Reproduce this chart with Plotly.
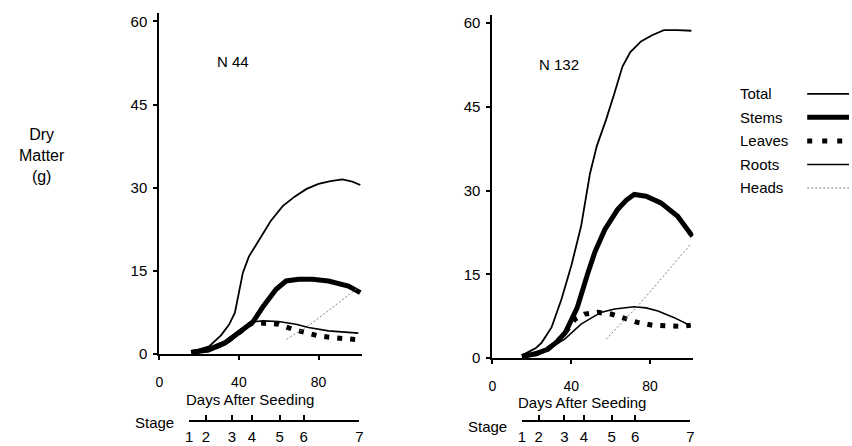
import plotly.graph_objects as go

W, H = 852, 446                # target picture size
LAYOUT_W, LAYOUT_H = 856, 453  # the page is photographed slightly reduced; this fills the frame

# ---------------- data ----------------
series_names = ["Total", "Stems", "Leaves", "Roots", "Heads"]
panel_titles = ["N 44", "N 132"]
x_ticks = [0, 40, 80]
y_ticks = [0, 15, 30, 45, 60]
stage_days = [15, 23.5, 36.5, 46.5, 60.5, 72.5, 100.5]
stage_labels = ["1", "2", "3", "4", "5", "6", "7"]

# N 44 panel
n44_total_days = [16, 25, 31, 35, 38, 42, 45, 49, 52, 56, 62, 68, 74, 80, 86, 92, 97, 101]
n44_total = [0.4, 1.4, 3.4, 5.3, 7.5, 14.7, 17.6, 20.0, 21.6, 24.0, 26.7, 28.4, 29.8, 30.7, 31.2, 31.5, 31.1, 30.5]
n44_stems_days = [16, 25, 33, 40, 47, 52, 58.7, 63.7, 70, 77, 85, 95, 101]
n44_stems = [0.3, 0.8, 2.0, 3.8, 5.8, 8.5, 11.7, 13.2, 13.5, 13.5, 13.2, 12.3, 11.1]
n44_leaves_days = [16, 25, 33, 40, 46, 53.7, 60, 67, 73.5, 80, 87, 93.5, 100]
n44_leaves = [0.3, 0.8, 2.0, 3.8, 5.5, 5.6, 5.4, 4.5, 3.9, 3.3, 3.0, 2.7, 2.6]
n44_roots_days = [16, 25, 33, 40, 46, 52, 60, 68.7, 75, 85, 100]
n44_roots = [0.4, 1.2, 2.4, 4.2, 5.8, 6.0, 5.9, 5.4, 4.8, 4.2, 3.8]
n44_heads_days = [64, 76, 100]
n44_heads = [2.7, 5.4, 12.0]

# N 132 panel
n132_total_days = [15, 22, 25, 30, 35, 40, 45, 49.5, 53, 57.7, 62, 66, 70, 75.4, 81, 87, 94, 101]
n132_total = [0.5, 1.8, 2.8, 5.5, 10.5, 16.5, 23.6, 33.0, 38.0, 42.7, 47.5, 52.2, 54.8, 56.7, 57.8, 58.7, 58.7, 58.6]
n132_stems_days = [15, 22, 28, 33, 37, 43, 48.5, 52, 57, 63.5, 68, 72, 78, 85.5, 94, 101.5]
n132_stems = [0.3, 0.8, 1.6, 3.0, 4.6, 9.0, 15.3, 19.0, 23.0, 26.6, 28.3, 29.3, 29.0, 27.8, 25.4, 21.8]
n132_leaves_days = [15, 22, 28, 33, 37, 42, 46.8, 53.5, 60.2, 67, 73.7, 81.3, 88, 94.7, 100.6]
n132_leaves = [0.3, 0.8, 1.6, 3.0, 4.6, 7.0, 7.9, 8.2, 7.9, 7.2, 6.4, 5.9, 5.7, 5.7, 5.9]
n132_roots_days = [15, 23, 30, 36.7, 45, 55, 62, 67, 72, 78, 84, 92, 100.6]
n132_roots = [0.2, 0.7, 2.0, 3.4, 6.1, 8.2, 8.8, 9.05, 9.2, 9.0, 8.45, 7.3, 5.8]
n132_heads_days = [57.7, 73.7, 100.6]
n132_heads = [3.4, 9.3, 20.4]

# ---------------- styles / layout helpers ----------------
FONT = "Arial, Liberation Sans, sans-serif"
styles = {
    "Total": dict(color="black", width=1.8),
    "Stems": dict(color="black", width=5),
    "Leaves": dict(color="black", width=5, dash="5px,8px"),
    "Roots": dict(color="black", width=1.6),
    "Heads": dict(color="#808080", width=1, dash="2px,2px"),
}
legend_styles = dict(styles)
legend_styles["Leaves"] = dict(color="black", width=5, dash="5px,10px")

def fx(px):
    return px / W

def fy(py):
    return 1 - py / H

def text_at(text, px, py, size=15, xanchor="center"):
    return dict(text=text, x=fx(px), y=fy(py), xref="paper", yref="paper",
                xanchor=xanchor, yanchor="middle", showarrow=False,
                font=dict(size=size), align="center")

X_MAX = 102
Y_MAX = 61.5
panels = [
    dict(x0=156, sx=2.0, y0=355, sy=5.56, title_px=(230, 62), xt_py=400, st_py=423),
    dict(x0=490.7, sx=1.98, y0=359, sy=5.6, title_px=(558, 65), xt_py=403, st_py=427),
]

panel_data = [
    [(n44_total_days, n44_total), (n44_stems_days, n44_stems), (n44_leaves_days, n44_leaves),
     (n44_roots_days, n44_roots), (n44_heads_days, n44_heads)],
    [(n132_total_days, n132_total), (n132_stems_days, n132_stems), (n132_leaves_days, n132_leaves),
     (n132_roots_days, n132_roots), (n132_heads_days, n132_heads)],
]

fig = go.Figure()
layout = dict(
    width=LAYOUT_W, height=LAYOUT_H, margin=dict(l=0, r=0, t=0, b=0),
    paper_bgcolor="white", plot_bgcolor="rgba(0,0,0,0)",
    showlegend=False, font=dict(family=FONT, color="black", size=15),
)
annotations = []
shapes = []

for i, (p, data) in enumerate(zip(panels, panel_data)):
    xa = "x" if i == 0 else f"x{2 * i + 1}"
    ya = "y" if i == 0 else f"y{2 * i + 1}"
    sa = f"x{2 * i + 2}"
    sy = f"y{2 * i + 2}"
    xkey = "xaxis" if i == 0 else f"xaxis{2 * i + 1}"
    ykey = "yaxis" if i == 0 else f"yaxis{2 * i + 1}"
    skx = f"xaxis{2 * i + 2}"
    sky = f"yaxis{2 * i + 2}"

    for name, (d, v) in zip(series_names, data):
        fig.add_trace(go.Scatter(x=d, y=v, mode="lines", line=styles[name], name=name,
                                 xaxis=xa, yaxis=ya, showlegend=False, hoverinfo="skip"))

    xdom = [fx(p["x0"]), fx(p["x0"] + X_MAX * p["sx"])]
    ydom = [fy(p["y0"]), fy(p["y0"] - Y_MAX * p["sy"])]
    layout[xkey] = dict(
        domain=xdom, range=[0, X_MAX], anchor=ya, tickvals=x_ticks,
        ticks="outside", ticklen=4, tickwidth=1.5, tickcolor="black",
        showline=True, linewidth=2, linecolor="black", showgrid=False, zeroline=False,
        tickfont=dict(size=14), ticklabelstandoff=10,
    )
    layout[ykey] = dict(
        domain=ydom, range=[0, Y_MAX], anchor=xa, tickvals=y_ticks,
        ticks="outside", ticklen=4, tickwidth=1.5, tickcolor="black",
        showline=True, linewidth=2, linecolor="black", showgrid=False, zeroline=False,
        tickfont=dict(size=15), ticklabelstandoff=3,
    )

    s0 = p["x0"] + stage_days[0] * p["sx"]
    s1 = p["x0"] + stage_days[-1] * p["sx"]
    line_py = 421
    fig.add_trace(go.Scatter(x=stage_days, y=[0] * len(stage_days), mode="markers",
                             marker=dict(opacity=0), xaxis=sa, yaxis=sy,
                             showlegend=False, hoverinfo="skip"))
    layout[skx] = dict(
        domain=[fx(s0), fx(s1)], range=[stage_days[0], stage_days[-1]], anchor=sy,
        tickvals=stage_days, ticktext=stage_labels, ticks="inside", ticklen=5,
        tickwidth=1.5, tickcolor="black", showline=True, linewidth=1.5, linecolor="black",
        showgrid=False, zeroline=False, tickfont=dict(size=15), ticklabelstandoff=2,
    )
    layout[sky] = dict(domain=[fy(line_py), fy(line_py) + 0.01], range=[0, 1],
                       anchor=sa, visible=False)

    annotations.append(text_at(panel_titles[i], *p["title_px"], size=15))
    annotations.append(text_at("Days After Seeding", p["x0"] + 45.5 * p["sx"], p["xt_py"], size=15))
    annotations.append(text_at("Stage", s0 - 35, p["st_py"], size=15))

annotations.append(text_at("Dry<br>Matter<br>(g)", 38, 156, size=16))

# legend: label on the left, line sample on the right
for k, name in enumerate(series_names):
    ly = 94 + 23.6 * k
    annotations.append(text_at(name, 737, ly, size=15, xanchor="left"))
    st = legend_styles[name]
    shapes.append(dict(type="line", xref="paper", yref="paper",
                       x0=fx(807), x1=fx(849), y0=fy(ly), y1=fy(ly),
                       line=dict(color=st["color"], width=st["width"], dash=st.get("dash", "solid"))))

layout["annotations"] = annotations
layout["shapes"] = shapes
fig.update_layout(**layout)
fig.write_html("out.html")
